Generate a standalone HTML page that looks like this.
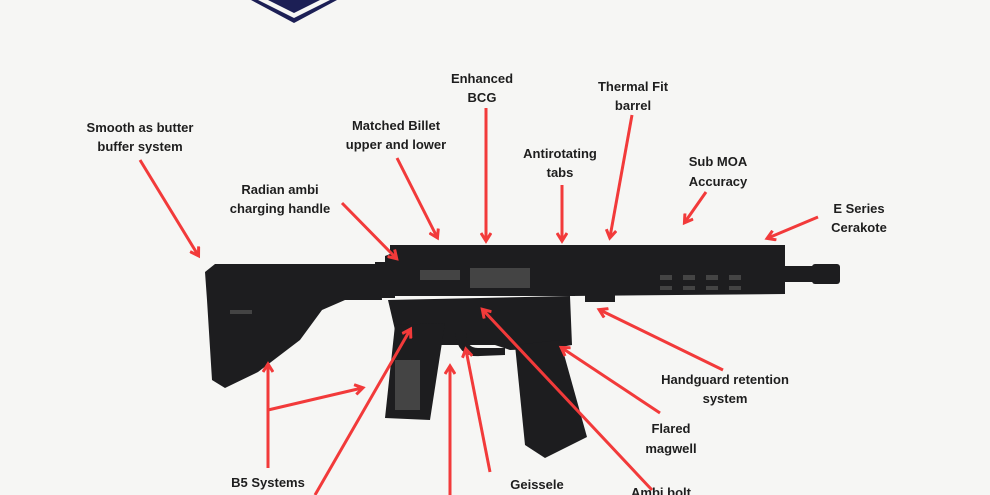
<!DOCTYPE html>
<html><head><style>
html,body{margin:0;padding:0;background:#f6f6f4;}
svg{display:block}
text{font-family:"Liberation Sans",sans-serif;font-weight:bold;font-size:13px;fill:#1e1e1e;text-anchor:middle}
</style></head><body>
<svg width="990" height="495" viewBox="0 0 990 495" xmlns="http://www.w3.org/2000/svg">
<rect width="990" height="495" fill="#f6f6f4"/>
<polygon points="251,0 337,0 294,23" fill="#1c1f55"/>
<polygon points="258,0 330,0 294,18" fill="#f6f6f4"/>
<polygon points="268,0 320,0 294,13" fill="#1c1f55"/>
<g fill="#1d1d1f">
<polygon points="205,272 215,264 380,264 382,300 345,300 322,310 300,340 258,372 225,388 212,380 207,300"/>
<rect x="375" y="262" width="20" height="36"/>
<polygon points="385,256 400,250 575,250 575,296 400,296 385,296"/>
<rect x="390" y="245" width="395" height="8"/>
<polygon points="570,250 785,250 785,294 570,296"/>
<rect x="585" y="290" width="30" height="12"/>
<rect x="780" y="266" width="40" height="16"/>
<rect x="812" y="264" width="28" height="20" rx="3"/>
<polygon points="388,300 570,296 572,345 555,348 510,350 495,345 440,345 420,330 395,330"/>
<polygon points="395,325 445,323 430,420 385,418"/>
<polygon points="515,345 560,340 587,437 545,458 525,445"/>
<path d="M455,333 Q458,358 480,356 L505,355 L505,348 L478,348 Q466,348 466,333 Z"/>
</g>
<g fill="#444">
<rect x="230" y="310" width="22" height="4"/>
<rect x="660" y="275" width="12" height="5"/><rect x="683" y="275" width="12" height="5"/><rect x="706" y="275" width="12" height="5"/><rect x="729" y="275" width="12" height="5"/>
<rect x="660" y="286" width="12" height="4"/><rect x="683" y="286" width="12" height="4"/><rect x="706" y="286" width="12" height="4"/><rect x="729" y="286" width="12" height="4"/>
<rect x="420" y="270" width="40" height="10"/><rect x="470" y="268" width="60" height="20"/>
<rect x="395" y="360" width="25" height="50"/>
</g>
<defs><marker id="a" markerWidth="12" markerHeight="12" refX="8" refY="6" orient="auto" markerUnits="userSpaceOnUse"><path d="M1,1 L9,6 L1,11" fill="none" stroke="#f23a3a" stroke-width="3"/></marker></defs>
<g stroke="#f23a3a" stroke-width="3" fill="none" marker-end="url(#a)">
<line x1="140" y1="160" x2="198" y2="255"/>
<line x1="342" y1="203" x2="396" y2="258"/>
<line x1="397" y1="158" x2="437" y2="237"/>
<line x1="486" y1="108" x2="486" y2="240"/>
<line x1="562" y1="185" x2="562" y2="240"/>
<line x1="632" y1="115" x2="610" y2="237"/>
<line x1="706" y1="192" x2="685" y2="222"/>
<line x1="818" y1="217" x2="768" y2="238"/>
<line x1="723" y1="370" x2="600" y2="310"/>
<line x1="660" y1="413" x2="562" y2="348"/>
<line x1="652" y1="490" x2="483" y2="310"/>
<line x1="490" y1="472" x2="466" y2="350"/>
<line x1="450" y1="495" x2="450" y2="367"/>
<line x1="315" y1="495" x2="410" y2="330"/>
<line x1="268" y1="468" x2="268" y2="365"/>
<line x1="268" y1="410" x2="362" y2="388"/>
</g>
<text x="140" y="132">Smooth as butter</text><text x="140" y="151">buffer system</text>
<text x="280" y="194">Radian ambi</text><text x="280" y="213">charging handle</text>
<text x="396" y="130">Matched Billet</text><text x="396" y="149">upper and lower</text>
<text x="482" y="83">Enhanced</text><text x="482" y="102">BCG</text>
<text x="633" y="91">Thermal Fit</text><text x="633" y="110">barrel</text>
<text x="560" y="158">Antirotating</text><text x="560" y="177">tabs</text>
<text x="718" y="166">Sub MOA</text><text x="718" y="186">Accuracy</text>
<text x="859" y="213">E Series</text><text x="859" y="232">Cerakote</text>
<text x="725" y="384">Handguard  retention</text><text x="725" y="403">system</text>
<text x="671" y="433">Flared</text><text x="671" y="453">magwell</text>
<text x="268" y="487">B5 Systems</text>
<text x="537" y="489">Geissele</text>
<text x="661" y="497">Ambi bolt</text>
</svg>
</body></html>
